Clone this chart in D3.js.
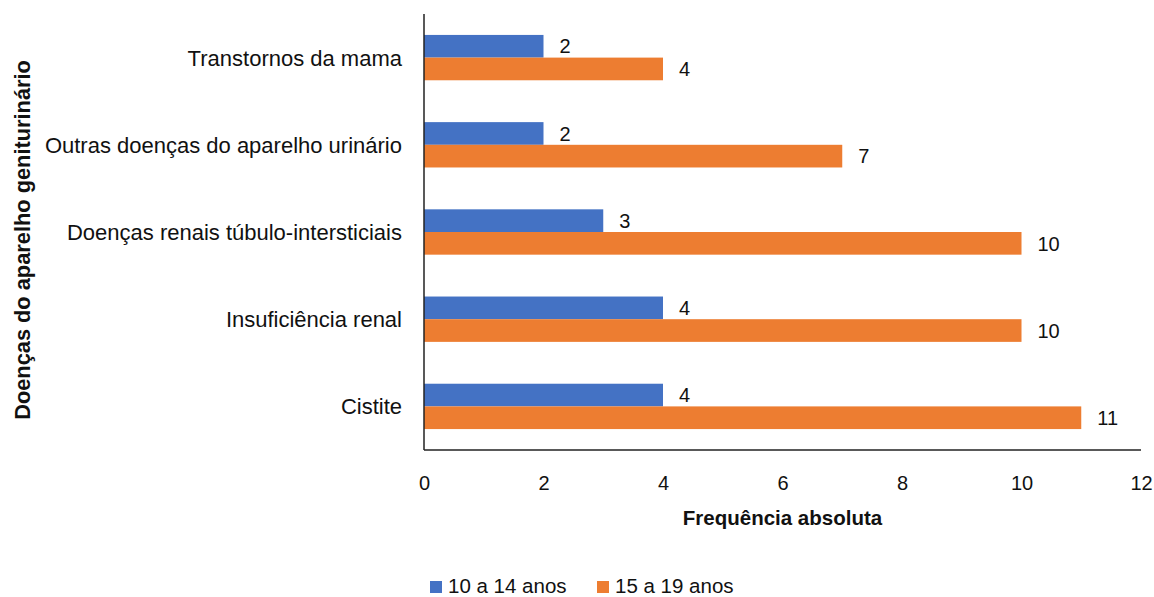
<!DOCTYPE html>
<html>
<head>
<meta charset="utf-8">
<script src="https://cdn.jsdelivr.net/npm/d3@7"></script>
<style>
  html, body { margin: 0; padding: 0; background: #fff; }
  svg { display: block; font-family: "Liberation Sans", Arial, sans-serif; }
</style>
</head>
<body>
<svg id="chart" width="1154" height="597"></svg>
<script>
const categories = [
  "Transtornos da mama",
  "Outras doenças do aparelho urinário",
  "Doenças renais túbulo-intersticiais",
  "Insuficiência renal",
  "Cistite"
];
const seriesNames = ["10 a 14 anos", "15 a 19 anos"];
const values10a14 = [2, 2, 3, 4, 4];
const values15a19 = [4, 7, 10, 10, 11];
const xTicks = [0, 2, 4, 6, 8, 10, 12];
const colors = ["#4472C4", "#ED7D31"];
const xTitle = "Frequência absoluta";
const yTitle = "Doenças do aparelho geniturinário";

const seriesValues = [values10a14, values15a19];
const rows = categories.map((c, i) => ({
  cat: c,
  vals: seriesNames.map((s, j) => ({ series: s, idx: j, value: seriesValues[j][i] }))
}));

const svg = d3.select("#chart");
const plotLeft = 424, plotRight = 1141, plotTop = 14, plotBottom = 450;

const x = d3.scaleLinear().domain([0, 12]).range([plotLeft, plotRight]);
const y = d3.scaleBand().domain(categories).range([plotTop, plotBottom])
  .paddingInner(0.48).paddingOuter(0.24);
const ySub = d3.scaleBand().domain(seriesNames).range([0, y.bandwidth()]);

const textColor = "#111";

// bars
const groups = svg.append("g").selectAll("g").data(rows).join("g")
  .attr("transform", d => `translate(0,${y(d.cat)})`);

groups.selectAll("rect").data(d => d.vals).join("rect")
  .attr("x", x(0))
  .attr("y", d => ySub(d.series))
  .attr("width", d => x(d.value) - x(0))
  .attr("height", ySub.bandwidth())
  .attr("fill", d => colors[d.idx]);

groups.selectAll("text.val").data(d => d.vals).join("text")
  .attr("class", "val")
  .attr("x", d => x(d.value) + 16)
  .attr("y", d => ySub(d.series) + ySub.bandwidth() / 2)
  .attr("dy", "0.36em")
  .attr("font-size", 20)
  .attr("fill", textColor)
  .text(d => d.value);

// category labels
svg.append("g").selectAll("text").data(categories).join("text")
  .attr("x", plotLeft - 22)
  .attr("y", d => y(d) + y.bandwidth() / 2)
  .attr("dy", "0.36em")
  .attr("text-anchor", "end")
  .attr("font-size", 22)
  .attr("fill", textColor)
  .text(d => d);

// axes lines
svg.append("line")
  .attr("x1", plotLeft).attr("x2", plotLeft).attr("y1", plotTop).attr("y2", plotBottom)
  .attr("stroke", "#222").attr("stroke-width", 1.5);
svg.append("line")
  .attr("x1", plotLeft).attr("x2", plotRight).attr("y1", plotBottom).attr("y2", plotBottom)
  .attr("stroke", "#222").attr("stroke-width", 1.5);

// x tick labels
const xAxis = d3.axisBottom(x).tickValues(xTicks).tickSize(0).tickPadding(0).tickFormat(d3.format("d"));
const gx = svg.append("g").attr("transform", `translate(0,${plotBottom})`).call(xAxis);
gx.select(".domain").remove();
gx.selectAll("text")
  .attr("y", 40)
  .attr("dy", 0)
  .attr("font-size", 20)
  .attr("font-family", "Liberation Sans, Arial, sans-serif")
  .attr("fill", textColor);

// axis titles
svg.append("text")
  .attr("x", (plotLeft + plotRight) / 2)
  .attr("y", 525)
  .attr("text-anchor", "middle")
  .attr("font-size", 20.5)
  .attr("font-weight", "bold")
  .attr("fill", textColor)
  .text(xTitle);

svg.append("text")
  .attr("transform", "translate(30,240) rotate(-90)")
  .attr("text-anchor", "middle")
  .attr("font-size", 21.8)
  .attr("font-weight", "bold")
  .attr("fill", textColor)
  .text(yTitle);

// legend
const legendX = [430, 597];
const lg = svg.append("g").selectAll("g").data(seriesNames).join("g")
  .attr("transform", (d, i) => `translate(${legendX[i]},581)`);
lg.append("rect").attr("width", 12).attr("height", 12).attr("fill", (d, i) => colors[i]);
lg.append("text")
  .attr("x", 18).attr("y", 12)
  .attr("font-size", 20.5)
  .attr("fill", textColor)
  .text(d => d);
</script>
</body>
</html>
